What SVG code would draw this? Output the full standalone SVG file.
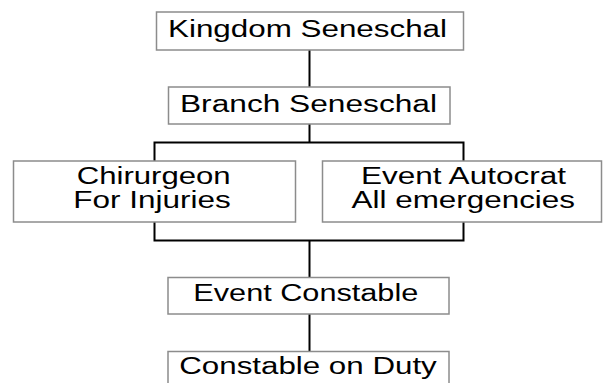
<svg xmlns="http://www.w3.org/2000/svg" width="603" height="383" viewBox="0 0 603 383">
<style>
.box{fill:#ffffff;stroke:#8c8c8c;stroke-width:1.5}
.t{font-family:"Liberation Sans",Arial,sans-serif;font-size:23px;fill:#000;text-anchor:middle}
.c{fill:none;stroke:#000;stroke-width:2}
</style>
<rect width="603" height="383" fill="#ffffff"/>
<g id="connectors">
<line class="c" x1="309.5" y1="50" x2="309.5" y2="87"/>
<line class="c" x1="309.5" y1="124" x2="309.5" y2="142.5"/>
<polyline class="c" points="154.5,161 154.5,142.5 463.5,142.5 463.5,161"/>
<polyline class="c" points="154.5,222 154.5,240.5 463.5,240.5 463.5,222"/>
<line class="c" x1="309.5" y1="240.5" x2="309.5" y2="277.5"/>
<line class="c" x1="309.5" y1="314" x2="309.5" y2="351.5"/>
</g>
<g id="kingdom">
<rect class="box" x="156.5" y="12" width="307" height="38"/>
<text class="t" x="307.5" y="36.7" textLength="279" lengthAdjust="spacingAndGlyphs">Kingdom Seneschal</text>
</g>
<g id="branch">
<rect class="box" x="168.5" y="87" width="281.5" height="37"/>
<text class="t" x="308.5" y="111.7" textLength="257" lengthAdjust="spacingAndGlyphs">Branch Seneschal</text>
</g>
<g id="chirurgeon">
<rect class="box" x="13.5" y="161" width="282" height="61"/>
<text class="t" x="153.7" y="184" textLength="154" lengthAdjust="spacingAndGlyphs">Chirurgeon</text>
<text class="t" x="152" y="207.5" textLength="157.5" lengthAdjust="spacingAndGlyphs">For Injuries</text>
</g>
<g id="autocrat">
<rect class="box" x="322.5" y="161" width="279" height="61"/>
<text class="t" x="463.5" y="184" textLength="205" lengthAdjust="spacingAndGlyphs">Event Autocrat</text>
<text class="t" x="463.3" y="207.5" textLength="223.5" lengthAdjust="spacingAndGlyphs">All emergencies</text>
</g>
<g id="constable">
<rect class="box" x="168" y="277.5" width="281" height="36.5"/>
<text class="t" x="305.8" y="300.7" textLength="225" lengthAdjust="spacingAndGlyphs">Event Constable</text>
</g>
<g id="duty">
<rect class="box" x="168" y="351.5" width="281" height="40"/>
<text class="t" x="308" y="374.3" textLength="257.5" lengthAdjust="spacingAndGlyphs">Constable on Duty</text>
</g>
</svg>
